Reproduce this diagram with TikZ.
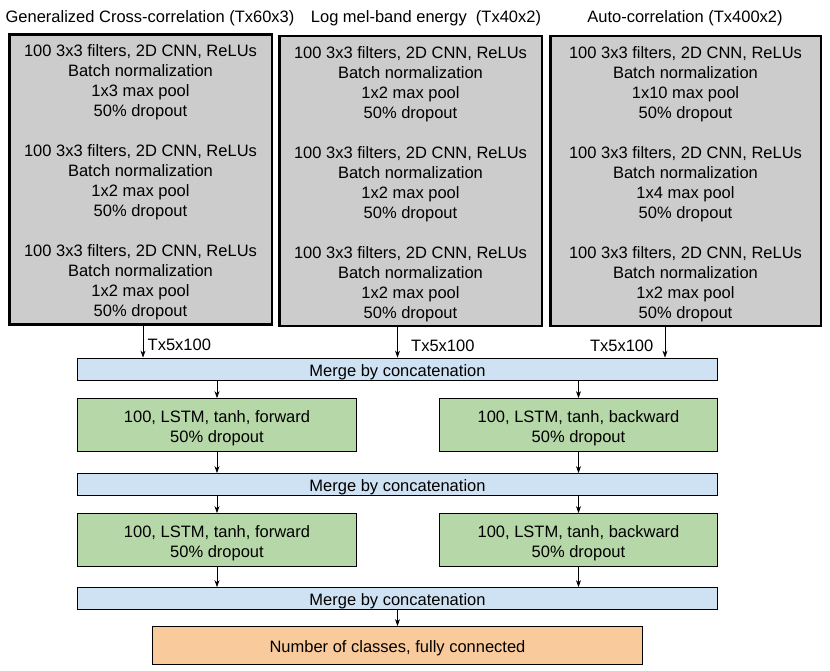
\documentclass[tikz,border=0pt]{standalone}
\usepackage{fontspec}
\setmainfont{Liberation Sans}
\usetikzlibrary{positioning,arrows.meta}
\definecolor{cnngray}{RGB}{204,204,204}
\definecolor{mergeblue}{RGB}{207,226,243}
\definecolor{lstmgreen}{RGB}{182,215,168}
\definecolor{fcorange}{RGB}{249,203,156}
\newcommand{\topstrut}{\rule{0pt}{17.5pt}}

\begin{document}
\begin{tikzpicture}[x=1pt,y=-1pt,
          every node/.style={font=\fontsize{16.5}{20}\selectfont},
          cnnblock/.style={draw,line width=2.5pt,fill=cnngray,align=center,
            inner sep=0pt,minimum height=290pt},
          mergebar/.style={draw,line width=0.8pt,fill=mergeblue,
            minimum width=640pt,minimum height=22pt,inner sep=0pt},
          lstmbox/.style={draw,line width=0.8pt,fill=lstmgreen,align=center,
            minimum height=53pt,inner sep=0pt},
          fcbox/.style={draw,line width=0.8pt,fill=fcorange,
            minimum width=490pt,minimum height=38pt,inner sep=0pt},
          flow/.style={line width=0.7pt,-{Stealth[length=7pt,width=5pt]}}]

        \useasboundingbox (0,0) rectangle (830,671);

        % input titles
        \node (t1) at (150,18) {Generalized Cross-correlation (Tx60x3)};
        \node (t2) at (426,18) {Log mel-band energy~ (Tx40x2)};
        \node (t3) at (685,18) {Auto-correlation (Tx400x2)};

        % CNN stacks
        \node[cnnblock,minimum width=262.5pt] (cnn1) at (140.5,179.5)
          {\topstrut 100 3x3 filters, 2D CNN, ReLUs\\ Batch normalization\\ 1x3 max pool\\ 50\% dropout\\[20pt]
           100 3x3 filters, 2D CNN, ReLUs\\ Batch normalization\\ 1x2 max pool\\ 50\% dropout\\[20pt]
           100 3x3 filters, 2D CNN, ReLUs\\ Batch normalization\\ 1x2 max pool\\ 50\% dropout};
        \node[cnnblock,minimum width=262.5pt] (cnn2) at (410.5,181)
          {\topstrut 100 3x3 filters, 2D CNN, ReLUs\\ Batch normalization\\ 1x2 max pool\\ 50\% dropout\\[20pt]
           100 3x3 filters, 2D CNN, ReLUs\\ Batch normalization\\ 1x2 max pool\\ 50\% dropout\\[20pt]
           100 3x3 filters, 2D CNN, ReLUs\\ Batch normalization\\ 1x2 max pool\\ 50\% dropout};
        \node[cnnblock,minimum width=270.5pt] (cnn3) at (685.5,181)
          {\topstrut 100 3x3 filters, 2D CNN, ReLUs\\ Batch normalization\\ 1x10 max pool\\ 50\% dropout\\[20pt]
           100 3x3 filters, 2D CNN, ReLUs\\ Batch normalization\\ 1x4 max pool\\ 50\% dropout\\[20pt]
           100 3x3 filters, 2D CNN, ReLUs\\ Batch normalization\\ 1x2 max pool\\ 50\% dropout};

        % recurrent part
        \node[mergebar] (m1) at (397.5,369) {\topstrut Merge by concatenation};
        \node[lstmbox,minimum width=279pt] (lf1) at (217,425)
          {\topstrut 100, LSTM, tanh, forward\\ 50\% dropout};
        \node[lstmbox,minimum width=278pt] (lb1) at (578.5,425)
          {\topstrut 100, LSTM, tanh, backward\\ 50\% dropout};
        \node[mergebar] (m2) at (397.5,484.5) {\topstrut Merge by concatenation};
        \node[lstmbox,minimum width=279pt] (lf2) at (217,540)
          {\topstrut 100, LSTM, tanh, forward\\ 50\% dropout};
        \node[lstmbox,minimum width=278pt] (lb2) at (578.5,540)
          {\topstrut 100, LSTM, tanh, backward\\ 50\% dropout};
        \node[mergebar] (m3) at (397.5,598.5) {\topstrut Merge by concatenation};
        \node[fcbox] (fc) at (397.5,645.5) {\topstrut Number of classes, fully connected};

        % arrows
        \draw[flow] ([xshift=2.5pt]cnn1.south) -- ([xshift=2.5pt]cnn1.south |- m1.north)
          node[pos=0.6,right=1pt] {Tx5x100};
        \draw[flow] (m1.north |- cnn2.south) -- (m1.north)
          node[pos=0.6,right=10pt] {Tx5x100};
        \draw[flow] ([xshift=-20.5pt]cnn3.south) -- ([xshift=-20.5pt]cnn3.south |- m1.north)
          node[pos=0.6,left=8pt] {Tx5x100};
        \draw[flow] (lf1.north |- m1.south) -- (lf1.north);
        \draw[flow] (lb1.north |- m1.south) -- (lb1.north);
        \draw[flow] (lf1.south) -- (lf1.south |- m2.north);
        \draw[flow] (lb1.south) -- (lb1.south |- m2.north);
        \draw[flow] (lf2.north |- m2.south) -- (lf2.north);
        \draw[flow] (lb2.north |- m2.south) -- (lb2.north);
        \draw[flow] (lf2.south) -- (lf2.south |- m3.north);
        \draw[flow] (lb2.south) -- (lb2.south |- m3.north);
        \draw[flow] (m3.south) -- (fc.north);
      \end{tikzpicture}
\end{document}
